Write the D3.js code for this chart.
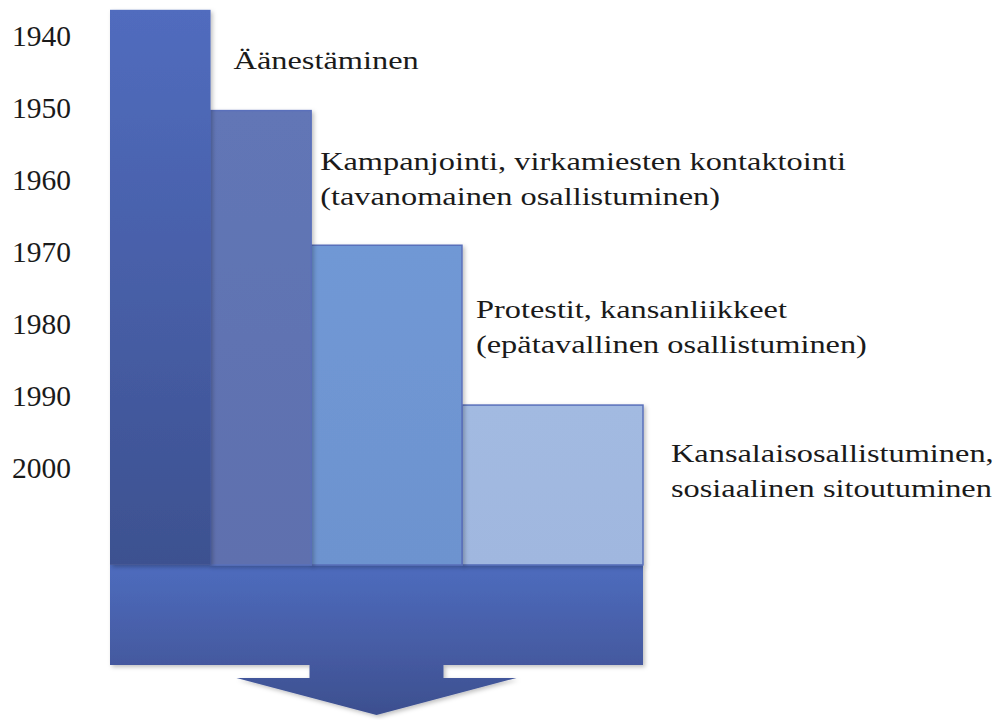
<!DOCTYPE html>
<html>
<head>
<meta charset="utf-8">
<script src="https://cdn.jsdelivr.net/npm/d3@7"></script>
<style>
	body { margin: 0; background: #ffffff; }
	text { font-family: "Liberation Serif", "Times New Roman", serif; fill: #1a1a1a; }
</style>
</head>
<body>
<div id="chart"></div>
<script>

const FRAME_WIDTH = 995;
const FRAME_HEIGHT = 720;

// data
const YEARS = [1940, 1950, 1960, 1970, 1980, 1990, 2000];
const PHASES = ["Äänestäminen", "Kampanjointi", "Protestit", "Kansalaisosallistuminen"];
const START_YEARS = [1936.5, 1950.5, 1969.2, 1991.4];
const END_YEAR = 2013.6;
const PHASE_WIDTHS = [1, 1, 1.5, 1.8];
const LABELS = [
	["Äänestäminen"],
	["Kampanjointi, virkamiesten kontaktointi", "(tavanomainen osallistuminen)"],
	["Protestit, kansanliikkeet", "(epätavallinen osallistuminen)"],
	["Kansalaisosallistuminen,", "sosiaalinen sitoutuminen"]
];

// layout / style
const COLORS = [["#516cbe", "#3d5190"], ["#6276b6", "#5e70ae"], ["#7098d5", "#6d93cf"], ["#a2bae1", "#a0b7df"]];
const LABEL_POS = [{dx: 23, y: 69}, {dx: 9, y: 170}, {dx: 14, y: 318}, {dx: 28, y: 462}];
const LINE_GAP = 35;
const TEXT_STRETCH = 1.27;

const FRAME = d3.select("#chart")
	.append("svg")
		.attr("width", FRAME_WIDTH)
		.attr("height", FRAME_HEIGHT);

const defs = FRAME.append("defs");

defs.append("filter")
		.attr("id", "shadow")
		.attr("x", "-10%").attr("y", "-10%")
		.attr("width", "130%").attr("height", "130%")
	.append("feDropShadow")
		.attr("dx", 2).attr("dy", 2)
		.attr("stdDeviation", 2)
		.attr("flood-color", "#000")
		.attr("flood-opacity", 0.25);

COLORS.forEach((c, i) => {
	const g = defs.append("linearGradient")
			.attr("id", "grad" + i)
			.attr("x1", 0).attr("y1", 0)
			.attr("x2", 0).attr("y2", 1);
	g.append("stop").attr("offset", "0%").attr("stop-color", c[0]);
	g.append("stop").attr("offset", "100%").attr("stop-color", c[1]);
});

const Y_SCALE = d3.scaleLinear()
	.domain([1940, 2000])
	.range([35, 467]);

const cum = [0];
PHASE_WIDTHS.forEach((w) => cum.push(cum[cum.length - 1] + w));

const X_SCALE = d3.scaleLinear()
	.domain([0, d3.sum(PHASE_WIDTHS)])
	.range([110, 643]);

const baseY = Y_SCALE(END_YEAR);
const bandH = 100;

// bottom band + arrow
const bandGrad = defs.append("linearGradient")
		.attr("id", "bandGrad")
		.attr("gradientUnits", "userSpaceOnUse")
		.attr("x1", 0).attr("y1", baseY)
		.attr("x2", 0).attr("y2", baseY + 150);
bandGrad.append("stop").attr("offset", "0%").attr("stop-color", "#4e6cbe");
bandGrad.append("stop").attr("offset", "66%").attr("stop-color", "#44599f");
bandGrad.append("stop").attr("offset", "100%").attr("stop-color", "#3c4f8f");

const x0 = X_SCALE(0), x1 = X_SCALE(d3.sum(PHASE_WIDTHS));
const cx = (x0 + x1) / 2;
const bandPath = d3.path();
bandPath.moveTo(x0, baseY);
bandPath.lineTo(x1, baseY);
bandPath.lineTo(x1, baseY + bandH);
bandPath.lineTo(cx + 67, baseY + bandH);
bandPath.lineTo(cx + 67, baseY + bandH + 13);
bandPath.lineTo(cx + 140, baseY + bandH + 13);
bandPath.lineTo(cx, baseY + bandH + 50);
bandPath.lineTo(cx - 140, baseY + bandH + 13);
bandPath.lineTo(cx - 67, baseY + bandH + 13);
bandPath.lineTo(cx - 67, baseY + bandH);
bandPath.lineTo(x0, baseY + bandH);
bandPath.closePath();

FRAME.append("path")
	.attr("d", bandPath.toString())
	.attr("fill", "url(#bandGrad)")
	.attr("filter", "url(#shadow)");

// bars (drawn from right to left so the shadows fall under the neighbours)
const idx = d3.range(PHASES.length).reverse();
FRAME.selectAll(".bar")
	.data(idx)
	.enter()
	.append("rect")
		.attr("class", "bar")
		.attr("x", (i) => X_SCALE(cum[i]))
		.attr("y", (i) => Y_SCALE(START_YEARS[i]))
		.attr("width", (i) => X_SCALE(cum[i + 1]) - X_SCALE(cum[i]))
		.attr("height", (i) => baseY - Y_SCALE(START_YEARS[i]))
		.attr("fill", (i) => "url(#grad" + i + ")")
		.attr("stroke", (i) => i == 0 ? "none" : "#5a70bb")
		.attr("stroke-width", 1.5)
		.attr("filter", "url(#shadow)");

// year axis
FRAME.append("g")
	.attr("transform", "translate(71,0)")
	.call(d3.axisLeft(Y_SCALE).tickValues(YEARS).tickFormat(d3.format("d")).tickSize(0).tickPadding(0))
	.call((g) => g.select(".domain").remove())
	.selectAll("text")
		.attr("font-size", "29.5px")
		.attr("font-family", "Liberation Serif, Times New Roman, serif")
		.attr("fill", "#1a1a1a")
		.attr("dy", "0.34em");

// phase labels (text in the source is a bit stretched sideways)
LABELS.forEach((lines, i) => {
	const t = FRAME.append("text")
			.attr("transform", "translate(" + (X_SCALE(cum[i + 1]) + LABEL_POS[i].dx) + "," + LABEL_POS[i].y + ") scale(" + TEXT_STRETCH + ",1)")
			.attr("font-size", "25.5px");
	lines.forEach((l, j) => {
		t.append("tspan")
			.attr("x", 0)
			.attr("y", j * LINE_GAP)
			.text(l);
	});
});

</script>
</body>
</html>
